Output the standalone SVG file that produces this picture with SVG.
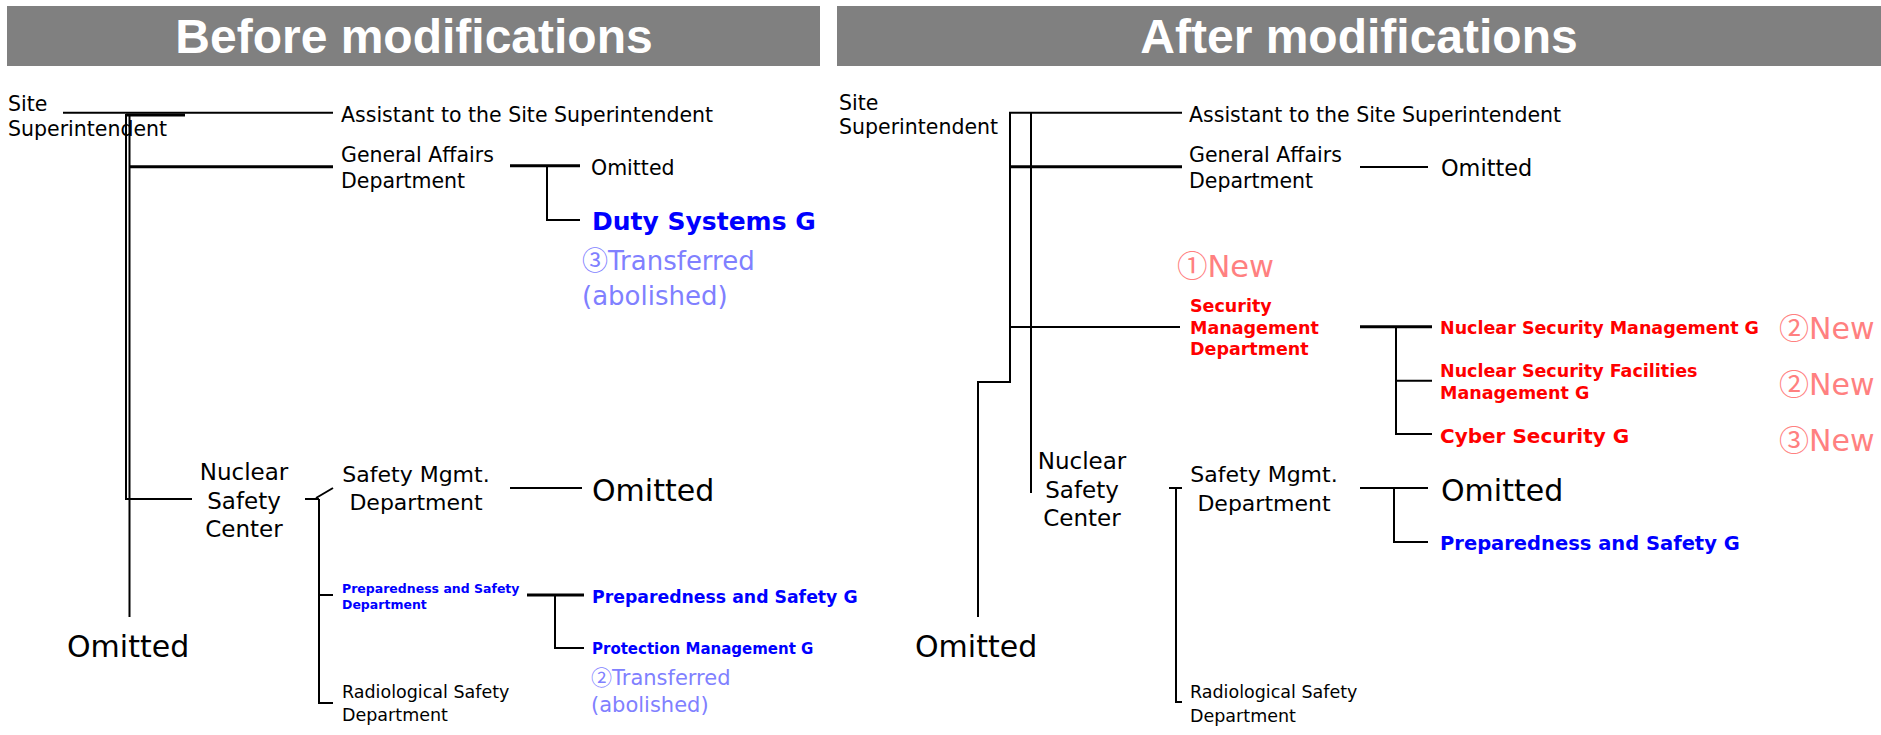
<svg xmlns="http://www.w3.org/2000/svg" width="1881" height="735" viewBox="0 0 1881 735">
<style>
.t{font-family:"DejaVu Sans","Noto Sans CJK JP",sans-serif;fill:#000}
.b{font-family:"DejaVu Sans","Noto Sans CJK JP",sans-serif;font-weight:bold}
.h{font-family:"Liberation Sans",Arial,sans-serif;font-weight:bold;font-size:48px;fill:#fff;text-anchor:middle}
.blue{fill:#0000ff}
.lb{fill:#8080ff}
.red{fill:#ff0000}
.pink{fill:#ff8080}
.cj{font-family:"Noto Sans CJK JP",sans-serif}
.ln{stroke:#000;fill:none;stroke-width:2}
.lt{stroke:#000;fill:none;stroke-width:3}
</style>
<rect x="7" y="6" width="813" height="60" fill="#808080"/>
<rect x="837" y="6" width="1044" height="60" fill="#808080"/>
<text class="h" x="414" y="53">Before modifications</text>
<text class="h" x="1359" y="53">After modifications</text>

<g id="connectors">
  <path class="ln" d="M63,112.7H333"/>
  <path class="lt" d="M126,115H185"/>
  <path class="ln" d="M126,114V499H192" stroke-width="1.7"/>
  <path class="ln" d="M129.5,114V617" stroke-width="1.7"/>
  <path class="lt" d="M129,166.7H333"/>
  <path class="lt" d="M510,165.7H580"/>
  <path class="ln" d="M547,166V220H580"/>
  <path class="ln" d="M305,499H319M316,498L333,488"/>
  <path class="ln" d="M319,499V703H333M319,595H333"/>
  <path class="ln" d="M510,488H582" stroke-width="2.5"/>
  <path class="lt" d="M527,595H584"/>
  <path class="ln" d="M555,595V648H584"/>
  <path class="ln" d="M1009,112.7H1182"/>
  <path class="ln" d="M1010,113V382H978V617"/>
  <path class="ln" d="M1031,113V493"/>
  <path class="lt" d="M1009,166.7H1182"/>
  <path class="ln" d="M1360,167H1428" stroke-width="2.5"/>
  <path class="ln" d="M1010,327H1180" stroke-width="2.5"/>
  <path class="lt" d="M1360,326.7H1432"/>
  <path class="ln" d="M1396,327V434H1432M1396,380.7H1432"/>
  <path class="ln" d="M1169,488H1182M1176,488V702H1182"/>
  <path class="ln" d="M1360,488H1428" stroke-width="2.5"/>
  <path class="ln" d="M1394,488V542H1428"/>
</g>

<g id="b-site"><text class="t" font-size="20.5" x="8" y="111">Site</text><text class="t" font-size="20.5" x="8" y="136">Superintendent</text></g>
<g id="b-assistant"><text class="t" font-size="20.5" x="341" y="121.5">Assistant to the Site Superintendent</text></g>
<g id="b-general"><text class="t" font-size="20.5" x="341" y="162">General Affairs</text><text class="t" font-size="20.5" x="341" y="188">Department</text></g>
<g id="b-omitted1"><text class="t" font-size="20.5" x="591" y="175">Omitted</text></g>
<g id="b-duty"><text class="b blue" font-size="25" x="592" y="230">Duty Systems G</text></g>
<g id="b-note3"><text class="t lb" font-size="26" x="582" y="270"><tspan class="cj">③</tspan>Transferred</text><text class="t lb" font-size="26" x="582" y="305">(abolished)</text></g>
<g id="b-nsc"><text class="t" font-size="23" text-anchor="middle" x="244" y="480">Nuclear</text><text class="t" font-size="23" text-anchor="middle" x="244" y="509">Safety</text><text class="t" font-size="23" text-anchor="middle" x="244" y="537">Center</text></g>
<g id="b-safety"><text class="t" font-size="22" text-anchor="middle" x="416" y="482">Safety Mgmt.</text><text class="t" font-size="22" text-anchor="middle" x="416" y="510">Department</text></g>
<g id="b-omitted2"><text class="t" font-size="30" x="592" y="501">Omitted</text></g>
<g id="b-prepdept"><text class="b blue" font-size="12.5" x="342" y="593">Preparedness and Safety</text><text class="b blue" font-size="12.5" x="342" y="609">Department</text></g>
<g id="b-prepg"><text class="b blue" font-size="17.3" x="592" y="603">Preparedness and Safety G</text></g>
<g id="b-protg"><text class="b blue" font-size="15" x="592" y="654">Protection Management G</text></g>
<g id="b-note2"><text class="t lb" font-size="21" x="591" y="685"><tspan class="cj">②</tspan>Transferred</text><text class="t lb" font-size="21" x="591" y="712">(abolished)</text></g>
<g id="b-radio"><text class="t" font-size="17.5" x="342" y="698">Radiological Safety</text><text class="t" font-size="17.5" x="342" y="721">Department</text></g>
<g id="b-omitted3"><text class="t" font-size="30" x="67" y="657">Omitted</text></g>

<g id="a-site"><text class="t" font-size="20.5" x="839" y="110">Site</text><text class="t" font-size="20.5" x="839" y="134">Superintendent</text></g>
<g id="a-assistant"><text class="t" font-size="20.5" x="1189" y="121.5">Assistant to the Site Superintendent</text></g>
<g id="a-general"><text class="t" font-size="20.5" x="1189" y="162">General Affairs</text><text class="t" font-size="20.5" x="1189" y="188">Department</text></g>
<g id="a-omitted1"><text class="t" font-size="22.4" x="1441" y="176">Omitted</text></g>
<g id="a-new1"><text class="t pink" font-size="30.5" x="1177" y="277"><tspan class="cj">①</tspan>New</text></g>
<g id="a-secdept"><text class="b red" font-size="17.5" x="1190" y="312">Security</text><text class="b red" font-size="17.5" x="1190" y="334">Management</text><text class="b red" font-size="17.5" x="1190" y="355">Department</text></g>
<g id="a-nsmg"><text class="b red" font-size="17.5" x="1440" y="334">Nuclear Security Management G</text></g>
<g id="a-nsfmg"><text class="b red" font-size="17.5" x="1440" y="377">Nuclear Security Facilities</text><text class="b red" font-size="17.5" x="1440" y="399">Management G</text></g>
<g id="a-cyber"><text class="b red" font-size="20" x="1440" y="443">Cyber Security G</text></g>
<g id="a-new2a"><text class="t pink" font-size="30" x="1779" y="339"><tspan class="cj">②</tspan>New</text></g>
<g id="a-new2b"><text class="t pink" font-size="30" x="1779" y="395"><tspan class="cj">②</tspan>New</text></g>
<g id="a-new3"><text class="t pink" font-size="30" x="1779" y="451"><tspan class="cj">③</tspan>New</text></g>
<g id="a-nsc"><text class="t" font-size="23" text-anchor="middle" x="1082" y="469">Nuclear</text><text class="t" font-size="23" text-anchor="middle" x="1082" y="498">Safety</text><text class="t" font-size="23" text-anchor="middle" x="1082" y="526">Center</text></g>
<g id="a-safety"><text class="t" font-size="22" text-anchor="middle" x="1264" y="482">Safety Mgmt.</text><text class="t" font-size="22" text-anchor="middle" x="1264" y="511">Department</text></g>
<g id="a-omitted2"><text class="t" font-size="30" x="1441" y="501">Omitted</text></g>
<g id="a-prepg"><text class="b blue" font-size="19.5" x="1440" y="550">Preparedness and Safety G</text></g>
<g id="a-radio"><text class="t" font-size="17.5" x="1190" y="698">Radiological Safety</text><text class="t" font-size="17.5" x="1190" y="722">Department</text></g>
<g id="a-omitted3"><text class="t" font-size="30" x="915" y="657">Omitted</text></g>
</svg>
